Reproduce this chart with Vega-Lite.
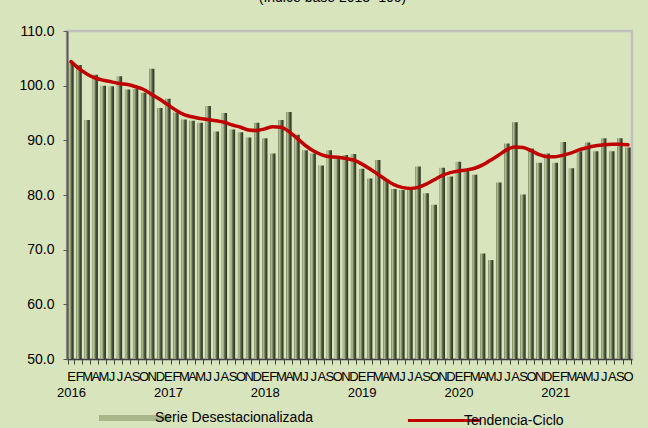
{
  "$schema": "https://vega.github.io/schema/vega-lite/v6.json",
  "width": 565,
  "height": 328,
  "autosize": {"type": "none"},
  "padding": {"left": 67, "top": 31, "right": 16, "bottom": 69},
  "background": "#D8E4BC",
  "title": {"text": "(índice base 2013=100)", "fontSize": 14, "fontWeight": "normal", "font": "Liberation Sans", "color": "#000000", "anchor": "middle", "frame": "group", "dx": -17, "offset": 8, "baseline": "alphabetic"},
  "config": {
    "view": {"stroke": "#BFBFBF", "strokeWidth": 2.5, "fill": "#D8E4BC"},
    "font": "Liberation Sans",
    "axis": {"labelFont": "Liberation Sans", "labelColor": "#000000"},
    "legend": {"labelFont": "Liberation Sans", "labelColor": "#000000"}
  },
  "data": {"values": [
    {"fecha": "2016-01", "serie": 104.3, "tendencia": 104.4},
    {"fecha": "2016-02", "serie": 103.8, "tendencia": 103.1},
    {"fecha": "2016-03", "serie": 93.7, "tendencia": 102.1},
    {"fecha": "2016-04", "serie": 102.0, "tendencia": 101.4},
    {"fecha": "2016-05", "serie": 100.0, "tendencia": 101.0},
    {"fecha": "2016-06", "serie": 99.9, "tendencia": 100.7},
    {"fecha": "2016-07", "serie": 101.7, "tendencia": 100.4},
    {"fecha": "2016-08", "serie": 99.3, "tendencia": 100.2},
    {"fecha": "2016-09", "serie": 99.4, "tendencia": 99.8},
    {"fecha": "2016-10", "serie": 98.7, "tendencia": 99.3},
    {"fecha": "2016-11", "serie": 103.1, "tendencia": 98.4},
    {"fecha": "2016-12", "serie": 95.9, "tendencia": 97.5},
    {"fecha": "2017-01", "serie": 97.6, "tendencia": 96.5},
    {"fecha": "2017-02", "serie": 95.1, "tendencia": 95.5},
    {"fecha": "2017-03", "serie": 93.8, "tendencia": 94.7},
    {"fecha": "2017-04", "serie": 93.6, "tendencia": 94.3},
    {"fecha": "2017-05", "serie": 93.2, "tendencia": 94.0},
    {"fecha": "2017-06", "serie": 96.3, "tendencia": 93.8},
    {"fecha": "2017-07", "serie": 91.6, "tendencia": 93.6},
    {"fecha": "2017-08", "serie": 95.0, "tendencia": 93.3},
    {"fecha": "2017-09", "serie": 92.0, "tendencia": 92.8},
    {"fecha": "2017-10", "serie": 91.5, "tendencia": 92.4},
    {"fecha": "2017-11", "serie": 90.5, "tendencia": 91.9},
    {"fecha": "2017-12", "serie": 93.2, "tendencia": 91.8},
    {"fecha": "2018-01", "serie": 90.4, "tendencia": 92.1},
    {"fecha": "2018-02", "serie": 87.6, "tendencia": 92.5},
    {"fecha": "2018-03", "serie": 93.7, "tendencia": 92.4},
    {"fecha": "2018-04", "serie": 95.2, "tendencia": 91.6},
    {"fecha": "2018-05", "serie": 91.0, "tendencia": 90.4},
    {"fecha": "2018-06", "serie": 88.2, "tendencia": 89.1},
    {"fecha": "2018-07", "serie": 87.6, "tendencia": 88.1},
    {"fecha": "2018-08", "serie": 85.4, "tendencia": 87.4},
    {"fecha": "2018-09", "serie": 88.2, "tendencia": 87.0},
    {"fecha": "2018-10", "serie": 86.6, "tendencia": 86.9},
    {"fecha": "2018-11", "serie": 87.3, "tendencia": 86.7},
    {"fecha": "2018-12", "serie": 87.5, "tendencia": 86.4},
    {"fecha": "2019-01", "serie": 84.8, "tendencia": 85.7},
    {"fecha": "2019-02", "serie": 83.0, "tendencia": 84.8},
    {"fecha": "2019-03", "serie": 86.4, "tendencia": 83.8},
    {"fecha": "2019-04", "serie": 82.9, "tendencia": 82.8},
    {"fecha": "2019-05", "serie": 81.1, "tendencia": 81.9},
    {"fecha": "2019-06", "serie": 80.9, "tendencia": 81.4},
    {"fecha": "2019-07", "serie": 81.3, "tendencia": 81.2},
    {"fecha": "2019-08", "serie": 85.2, "tendencia": 81.4},
    {"fecha": "2019-09", "serie": 80.3, "tendencia": 82.0},
    {"fecha": "2019-10", "serie": 78.2, "tendencia": 82.8},
    {"fecha": "2019-11", "serie": 85.0, "tendencia": 83.6},
    {"fecha": "2019-12", "serie": 83.4, "tendencia": 84.1},
    {"fecha": "2020-01", "serie": 86.1, "tendencia": 84.4},
    {"fecha": "2020-02", "serie": 84.6, "tendencia": 84.6},
    {"fecha": "2020-03", "serie": 83.7, "tendencia": 84.9},
    {"fecha": "2020-04", "serie": 69.3, "tendencia": 85.5},
    {"fecha": "2020-05", "serie": 68.1, "tendencia": 86.4},
    {"fecha": "2020-06", "serie": 82.3, "tendencia": 87.3},
    {"fecha": "2020-07", "serie": 89.4, "tendencia": 88.3},
    {"fecha": "2020-08", "serie": 93.3, "tendencia": 88.8},
    {"fecha": "2020-09", "serie": 80.1, "tendencia": 88.7},
    {"fecha": "2020-10", "serie": 88.5, "tendencia": 88.1},
    {"fecha": "2020-11", "serie": 85.9, "tendencia": 87.4},
    {"fecha": "2020-12", "serie": 87.6, "tendencia": 87.0},
    {"fecha": "2021-01", "serie": 85.9, "tendencia": 87.0},
    {"fecha": "2021-02", "serie": 89.7, "tendencia": 87.3},
    {"fecha": "2021-03", "serie": 84.9, "tendencia": 87.7},
    {"fecha": "2021-04", "serie": 88.0, "tendencia": 88.3},
    {"fecha": "2021-05", "serie": 89.6, "tendencia": 88.7},
    {"fecha": "2021-06", "serie": 88.0, "tendencia": 89.0},
    {"fecha": "2021-07", "serie": 90.4, "tendencia": 89.2},
    {"fecha": "2021-08", "serie": 88.0, "tendencia": 89.3},
    {"fecha": "2021-09", "serie": 90.4, "tendencia": 89.3},
    {"fecha": "2021-10", "serie": 88.7, "tendencia": 89.2}
  ]},
  "encoding": {
    "x": {
      "field": "fecha", "type": "ordinal",
      "scale": {"paddingInner": 0.34, "paddingOuter": 0.17},
      "axis": {
        "title": null,
        "labelExpr": "!isString(datum.value) ? '' : (slice(datum.value,5,7) == '01' ? ['E', slice(datum.value,0,4)] : slice('EFMAMJJASOND', toNumber(slice(datum.value,5,7))-1, toNumber(slice(datum.value,5,7))))",
        "labelOverlap": false, "labelAngle": 0, "labelFontSize": 13, "labelLineHeight": 16,
        "labelPadding": 6, "tickSize": 5, "tickBand": "extent",
        "domainColor": "#404040", "tickColor": "#404040", "domainWidth": 1.5
      }
    }
  },
  "layer": [
    {
      "mark": {
        "type": "bar",
        "fill": {
          "gradient": "linear", "x1": 0, "y1": 0, "x2": 1, "y2": 0,
          "stops": [
            {"offset": 0, "color": "#56603F"},
            {"offset": 0.15, "color": "#BAC69B"},
            {"offset": 0.35, "color": "#9CA87E"},
            {"offset": 0.55, "color": "#5F6A49"},
            {"offset": 0.8, "color": "#3A4230"},
            {"offset": 1, "color": "#2B3123"}
          ]
        }
      },
      "encoding": {
        "y": {
          "field": "serie", "type": "quantitative",
          "scale": {"domain": [50, 110], "nice": false, "zero": false},
          "axis": {
            "title": null, "values": [50, 60, 70, 80, 90, 100, 110], "format": ".1f",
            "labelFontSize": 14, "labelPadding": 9, "tickSize": 4, "grid": false,
            "domainColor": "#595959", "domainWidth": 2, "tickColor": "#595959"
          }
        },
        "y2": {"datum": 50}
      }
    },
    {
      "mark": {"type": "line", "interpolate": "monotone", "strokeWidth": 3.5, "strokeCap": "round"},
      "encoding": {
        "y": {"field": "tendencia", "type": "quantitative"},
        "color": {
          "datum": "Tendencia-Ciclo", "type": "nominal",
          "scale": {"domain": ["Serie Desestacionalizada", "Tendencia-Ciclo"], "range": ["#A8B68A", "#C00000"]},
          "legend": {
            "title": null, "orient": "none", "legendX": 61, "legendY": 380,
            "direction": "horizontal", "symbolType": "stroke", "symbolSize": 5200,
            "symbolStrokeWidth": 4, "labelFontSize": 14, "labelOffset": 13,
            "columnPadding": 88, "padding": 0,
            "encode": {"symbols": {"update": {"strokeWidth": {"signal": "datum.value === 'Tendencia-Ciclo' ? 3 : 6"}}}}
          }
        }
      }
    }
  ]
}
